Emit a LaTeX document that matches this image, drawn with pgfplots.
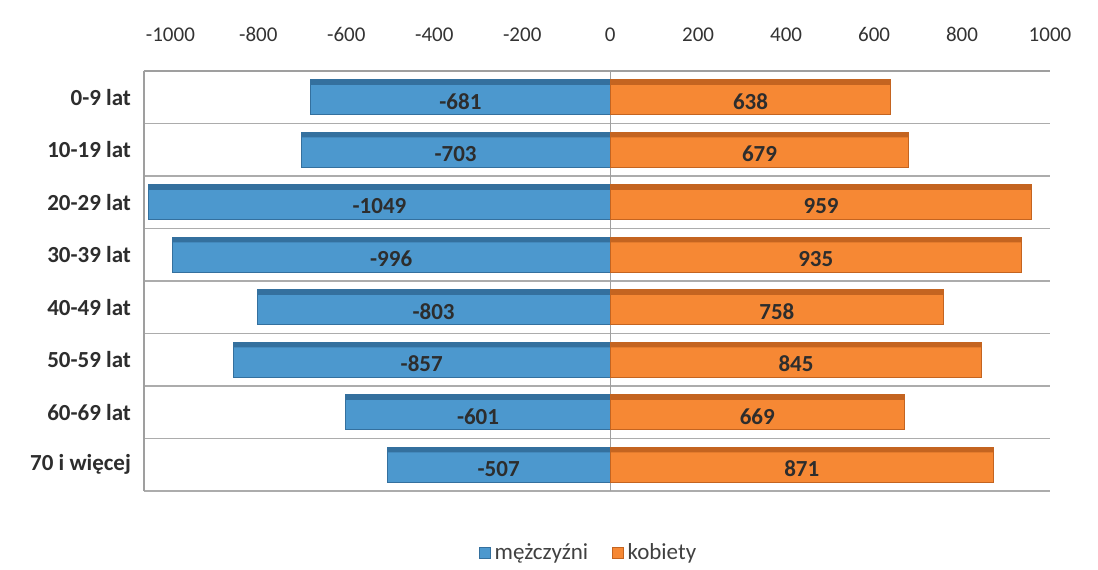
\documentclass[border=0pt]{standalone}
\usepackage{fontspec}
\setmainfont{Carlito}
\usepackage{pgfplots}
\usepackage{pgfplotstable}
\pgfplotsset{compat=1.18}

\definecolor{menblue}{RGB}{76,152,206}
\definecolor{menbluedark}{RGB}{52,112,158}
\definecolor{womenorange}{RGB}{246,136,52}
\definecolor{womenorangedark}{RGB}{196,100,32}
\definecolor{labeltext}{RGB}{45,45,45}

% idx: 7 = youngest group (drawn at the top), 0 = oldest
\pgfplotstableread{
idx m k
7 -681 638
6 -703 679
5 -1049 959
4 -996 935
3 -803 758
2 -857 845
1 -601 669
0 -507 871
}\agedata

\pgfplotsset{/pgf/number format/.cd, 1000 sep={}, assume math mode=true}

\begin{document}
\begin{tikzpicture}[x=1pt,y=1pt]
\useasboundingbox (-72,-39) rectangle (477,245.5);
\begin{axis}[
  at={(0,0)}, anchor=south west,
  scale only axis, width=453pt, height=210pt,
  xmin=-1060, xmax=1000, ymin=-0.5, ymax=7.5,
  axis x line*=top, axis y line*=left,
  axis line style={-, draw=gray!75, line width=0.6pt},
  xtick={-1000,-800,...,1000},
  extra x ticks={0}, extra x tick labels={},
  extra x tick style={grid=major, major grid style={draw=gray!75, line width=0.6pt}},
  ytick={0,...,7},
  yticklabels={70 i więcej, 60-69 lat, 50-59 lat, 40-49 lat, 30-39 lat, 20-29 lat, 10-19 lat, 0-9 lat},
  minor ytick={-0.5,0.5,...,7.5},
  yminorgrids, minor grid style={draw=gray!65, line width=0.6pt},
  major tick length=0pt, minor tick length=0pt,
  xticklabel style={font=\fontsize{10.5}{12}\selectfont, text=black!80, yshift=11pt},
  yticklabel style={font=\bfseries\fontsize{11.5}{14}\selectfont, text=labeltext, xshift=-3pt},
  legend style={at={(0.492,-0.148)}, anchor=center, draw=none, fill=none,
    legend columns=2, font=\fontsize{11.5}{13}\selectfont, text=black!75,
    /tikz/every even column/.append style={column sep=10pt}},
  legend image code/.code={\fill[#1] (0pt,-2.6pt) rectangle (5.2pt,2.6pt);},
  clip=false,
]
\addplot[xbar, bar width=17.5pt, bar shift=0pt, fill=menblue, draw=menbluedark, line width=0.5pt]
  table[x=m, y=idx] {\agedata};
\addlegendentry{mężczyźni}
\addplot[xbar, bar width=17.5pt, bar shift=0pt, fill=womenorange, draw=womenorangedark, line width=0.5pt]
  table[x=k, y=idx] {\agedata};
\addlegendentry{kobiety}

% darker strip along the top face of each bar
\addplot[xbar, bar width=2.5pt, bar shift=7.5pt, fill=menbluedark, draw=none, forget plot]
  table[x=m, y=idx] {\agedata};
\addplot[xbar, bar width=2.5pt, bar shift=7.5pt, fill=womenorangedark, draw=none, forget plot]
  table[x=k, y=idx] {\agedata};

% value labels centred inside each bar
\addplot[draw=none, mark=none, forget plot, nodes near coords, point meta=explicit,
  nodes near coords style={anchor=center, yshift=-2pt, font=\bfseries\fontsize{11.5}{14}\selectfont, text=labeltext}]
  table[x expr=\thisrow{m}/2, y=idx, meta=m] {\agedata};
\addplot[draw=none, mark=none, forget plot, nodes near coords, point meta=explicit,
  nodes near coords style={anchor=center, yshift=-2pt, font=\bfseries\fontsize{11.5}{14}\selectfont, text=labeltext}]
  table[x expr=\thisrow{k}/2, y=idx, meta=k] {\agedata};
\end{axis}
\end{tikzpicture}
\end{document}
